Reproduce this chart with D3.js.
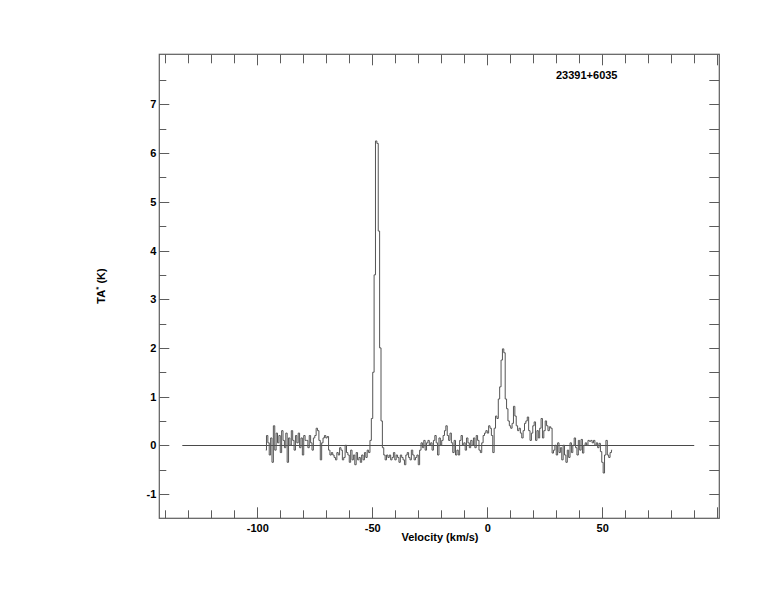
<!DOCTYPE html>
<html>
<head>
<meta charset="utf-8">
<script src="https://cdn.jsdelivr.net/npm/d3@7"></script>
<style>
  html, body { margin: 0; padding: 0; background: #fff; }
  text { font-family: "Liberation Sans", Arial, Helvetica, sans-serif; font-weight: bold; font-size: 11px; fill: #000; }
</style>
</head>
<body>
<svg id="chart" width="774" height="612"></svg>
<script>
// ---------------- data ----------------
const title = "23391+6035";
const xLabel = "Velocity (km/s)";
const xDomain = [-142.6, 100.9];
const yDomain = [-1.5, 8.03];
const xMajorTicks = [-100, -50, 0, 50];
const yMajorTicks = [-1, 0, 1, 2, 3, 4, 5, 6, 7];
const baselineRange = [-132.6, 90];
// spectrum channels: first channel velocity and channel width (km/s)
const channelStart = -96.3;
const channelWidth = 0.6;
// antenna temperature TA* (K) per channel
const taValues = [
  -0.1, 0.2, 0.05, -0.2, 0.15, -0.35, 0.4, -0.1, 0.25, 0.05,
  0.2, -0.15, 0.3, 0.1, -0.05, 0.25, -0.35, 0.15, 0.0, 0.3,
  0.1, -0.1, 0.2, 0.05, 0.25, -0.05, 0.15, -0.2, 0.2, 0.1,
  0.1, -0.05, 0.2, 0.05, -0.1, 0.15, 0.2, 0.35, 0.3, 0.1,
  -0.3, 0.05, 0.15, 0.2, 0.15, 0.18, -0.1, -0.2, -0.15, -0.2,
  -0.25, -0.3, -0.15, -0.2, -0.05, -0.1, -0.3, -0.25, 0.0, -0.15,
  -0.2, -0.35, -0.1, -0.3, -0.2, -0.4, -0.15, -0.3, -0.25, -0.35,
  -0.2, -0.3, -0.15, -0.25, -0.1, -0.15, 0.1, 0.55, 1.5, 3.5,
  6.25, 6.2, 4.4, 2.0, 0.5, -0.05, -0.2, -0.3, -0.2, -0.25,
  -0.2, -0.3, -0.25, -0.15, -0.3, -0.2, -0.25, -0.35, -0.2, -0.25,
  -0.3, -0.4, -0.2, -0.15, -0.25, -0.3, -0.1, -0.2, -0.3, -0.25,
  -0.2, -0.4, -0.1, 0.05, -0.05, 0.1, -0.1, 0.05, 0.1, 0.0,
  0.05, -0.1, 0.1, 0.2, 0.05, -0.2, 0.15, 0.0, 0.1, 0.2,
  0.3, 0.4, 0.2, 0.1, 0.25, 0.05, -0.15, 0.1, -0.2, -0.1,
  -0.2, 0.1, 0.2, 0.0, 0.05, -0.1, 0.15, 0.05, -0.05, 0.1,
  0.0, 0.15, -0.05, 0.2, 0.1, -0.1, -0.15, 0.05, 0.2, 0.25,
  0.3, 0.25, 0.4, 0.35, 0.2, -0.15, 0.35, 0.6, 0.55, 0.95,
  1.2, 1.75, 1.98, 1.9, 0.95, 0.75, 0.5, 0.4, 0.35, 0.45,
  0.8, 0.6, 0.4, 0.3, 0.35, 0.25, 0.15, 0.3, 0.45, 0.5,
  0.58, 0.3, 0.1, 0.25, 0.4, 0.48, 0.1, 0.3, 0.15, 0.35,
  0.55, 0.15, 0.3, 0.5, 0.4, 0.3, 0.38, 0.35, -0.16, -0.1,
  0.0, -0.2, 0.05, -0.15, -0.05, -0.3, 0.0, -0.2, -0.35, -0.1,
  -0.25, 0.05, -0.15, 0.0, 0.15, -0.05, -0.2, 0.1, -0.1, 0.12,
  -0.16, 0.0, 0.05, 0.0, 0.1, 0.08, 0.1, 0.05, 0.1, 0.0,
  0.05, -0.05, 0.04, -0.13, -0.35, -0.57, -0.2, 0.1, -0.2, -0.25,
  -0.15, -0.1
];

// ---------------- chart ----------------
const svg = d3.select("#chart");
const pL = 159.3, pR = 719.3, pT = 54.3, pB = 518.3;
const x = d3.scaleLinear().domain(xDomain).range([pL, pR]);
const y = d3.scaleLinear().domain(yDomain).range([pB, pT]);
const ink = "#5c5c5c";
const plainFmt = d => String(d);

const spectrum = taValues.map((t, i) => ({ v: channelStart + i * channelWidth, t }));

// baseline
svg.append("line")
  .attr("x1", x(baselineRange[0])).attr("x2", x(baselineRange[1]))
  .attr("y1", Math.round(y(0)) + 0.5).attr("y2", Math.round(y(0)) + 0.5)
  .attr("stroke", "#4a4a4a").attr("stroke-width", 1);

// spectrum histogram
svg.append("path")
  .datum(spectrum)
  .attr("fill", "none")
  .attr("stroke", "#555")
  .attr("stroke-width", 1)
  .attr("d", d3.line().x(d => x(d.v)).y(d => y(d.t)).curve(d3.curveStep));

// x ticks (every 10, major every 50)
const xTicks = d3.range(-140, 101, 10);
const isMajX = v => v % 50 === 0;
svg.selectAll(".xt").data(xTicks).enter().append("line")
  .attr("x1", d => Math.round(x(d)) + 0.5).attr("x2", d => Math.round(x(d)) + 0.5)
  .attr("y1", pB).attr("y2", d => pB - (isMajX(d) ? 11 : 8))
  .attr("stroke", ink);
svg.selectAll(".xtt").data(xTicks).enter().append("line")
  .attr("x1", d => Math.round(x(d)) + 0.5).attr("x2", d => Math.round(x(d)) + 0.5)
  .attr("y1", pT).attr("y2", d => pT + (isMajX(d) ? 11 : 9))
  .attr("stroke", ink);

// x labels via axis generator
const gx = svg.append("g").attr("transform", `translate(0,${pB})`)
  .call(d3.axisBottom(x).tickValues(xMajorTicks).tickSize(0).tickPadding(6).tickFormat(plainFmt));
gx.select(".domain").remove();
gx.selectAll("text").attr("font-family", null).attr("font-size", null).attr("fill", "#000");

// y ticks (every 0.5, major every 1)
const yTicks = d3.range(-1, 7.6, 0.5);
const isMajY = v => Math.abs(v - Math.round(v)) < 1e-6;
svg.selectAll(".yt").data(yTicks).enter().append("line")
  .attr("x1", pL).attr("x2", d => pL + (isMajY(d) ? 10 : 7))
  .attr("y1", d => Math.round(y(d)) + 0.5).attr("y2", d => Math.round(y(d)) + 0.5)
  .attr("stroke", ink);
svg.selectAll(".ytr").data(yTicks).enter().append("line")
  .attr("x1", pR).attr("x2", pR - 10)
  .attr("y1", d => Math.round(y(d)) + 0.5).attr("y2", d => Math.round(y(d)) + 0.5)
  .attr("stroke", ink);

const gy = svg.append("g").attr("transform", `translate(${pL},0)`)
  .call(d3.axisLeft(y).tickValues(yMajorTicks).tickSize(0).tickPadding(3).tickFormat(plainFmt));
gy.select(".domain").remove();
gy.selectAll("text").attr("font-family", null).attr("font-size", null).attr("fill", "#000");

// frame
svg.append("rect")
  .attr("x", pL).attr("y", pT)
  .attr("width", pR - pL).attr("height", pB - pT)
  .attr("fill", "none").attr("stroke", ink).attr("stroke-width", 1.2);

// title
svg.append("text").attr("x", 556).attr("y", 79).text(title);

// x label
svg.append("text").attr("x", 440).attr("y", 541).attr("text-anchor", "middle").text(xLabel);

// y label
const yl = svg.append("text")
  .attr("transform", "translate(105,286) rotate(-90)")
  .attr("text-anchor", "middle");
yl.append("tspan").text("TA");
yl.append("tspan").attr("font-size", "8px").attr("dy", "-4").text("*");
yl.append("tspan").attr("dy", "4").text(" (K)");
</script>
</body>
</html>
